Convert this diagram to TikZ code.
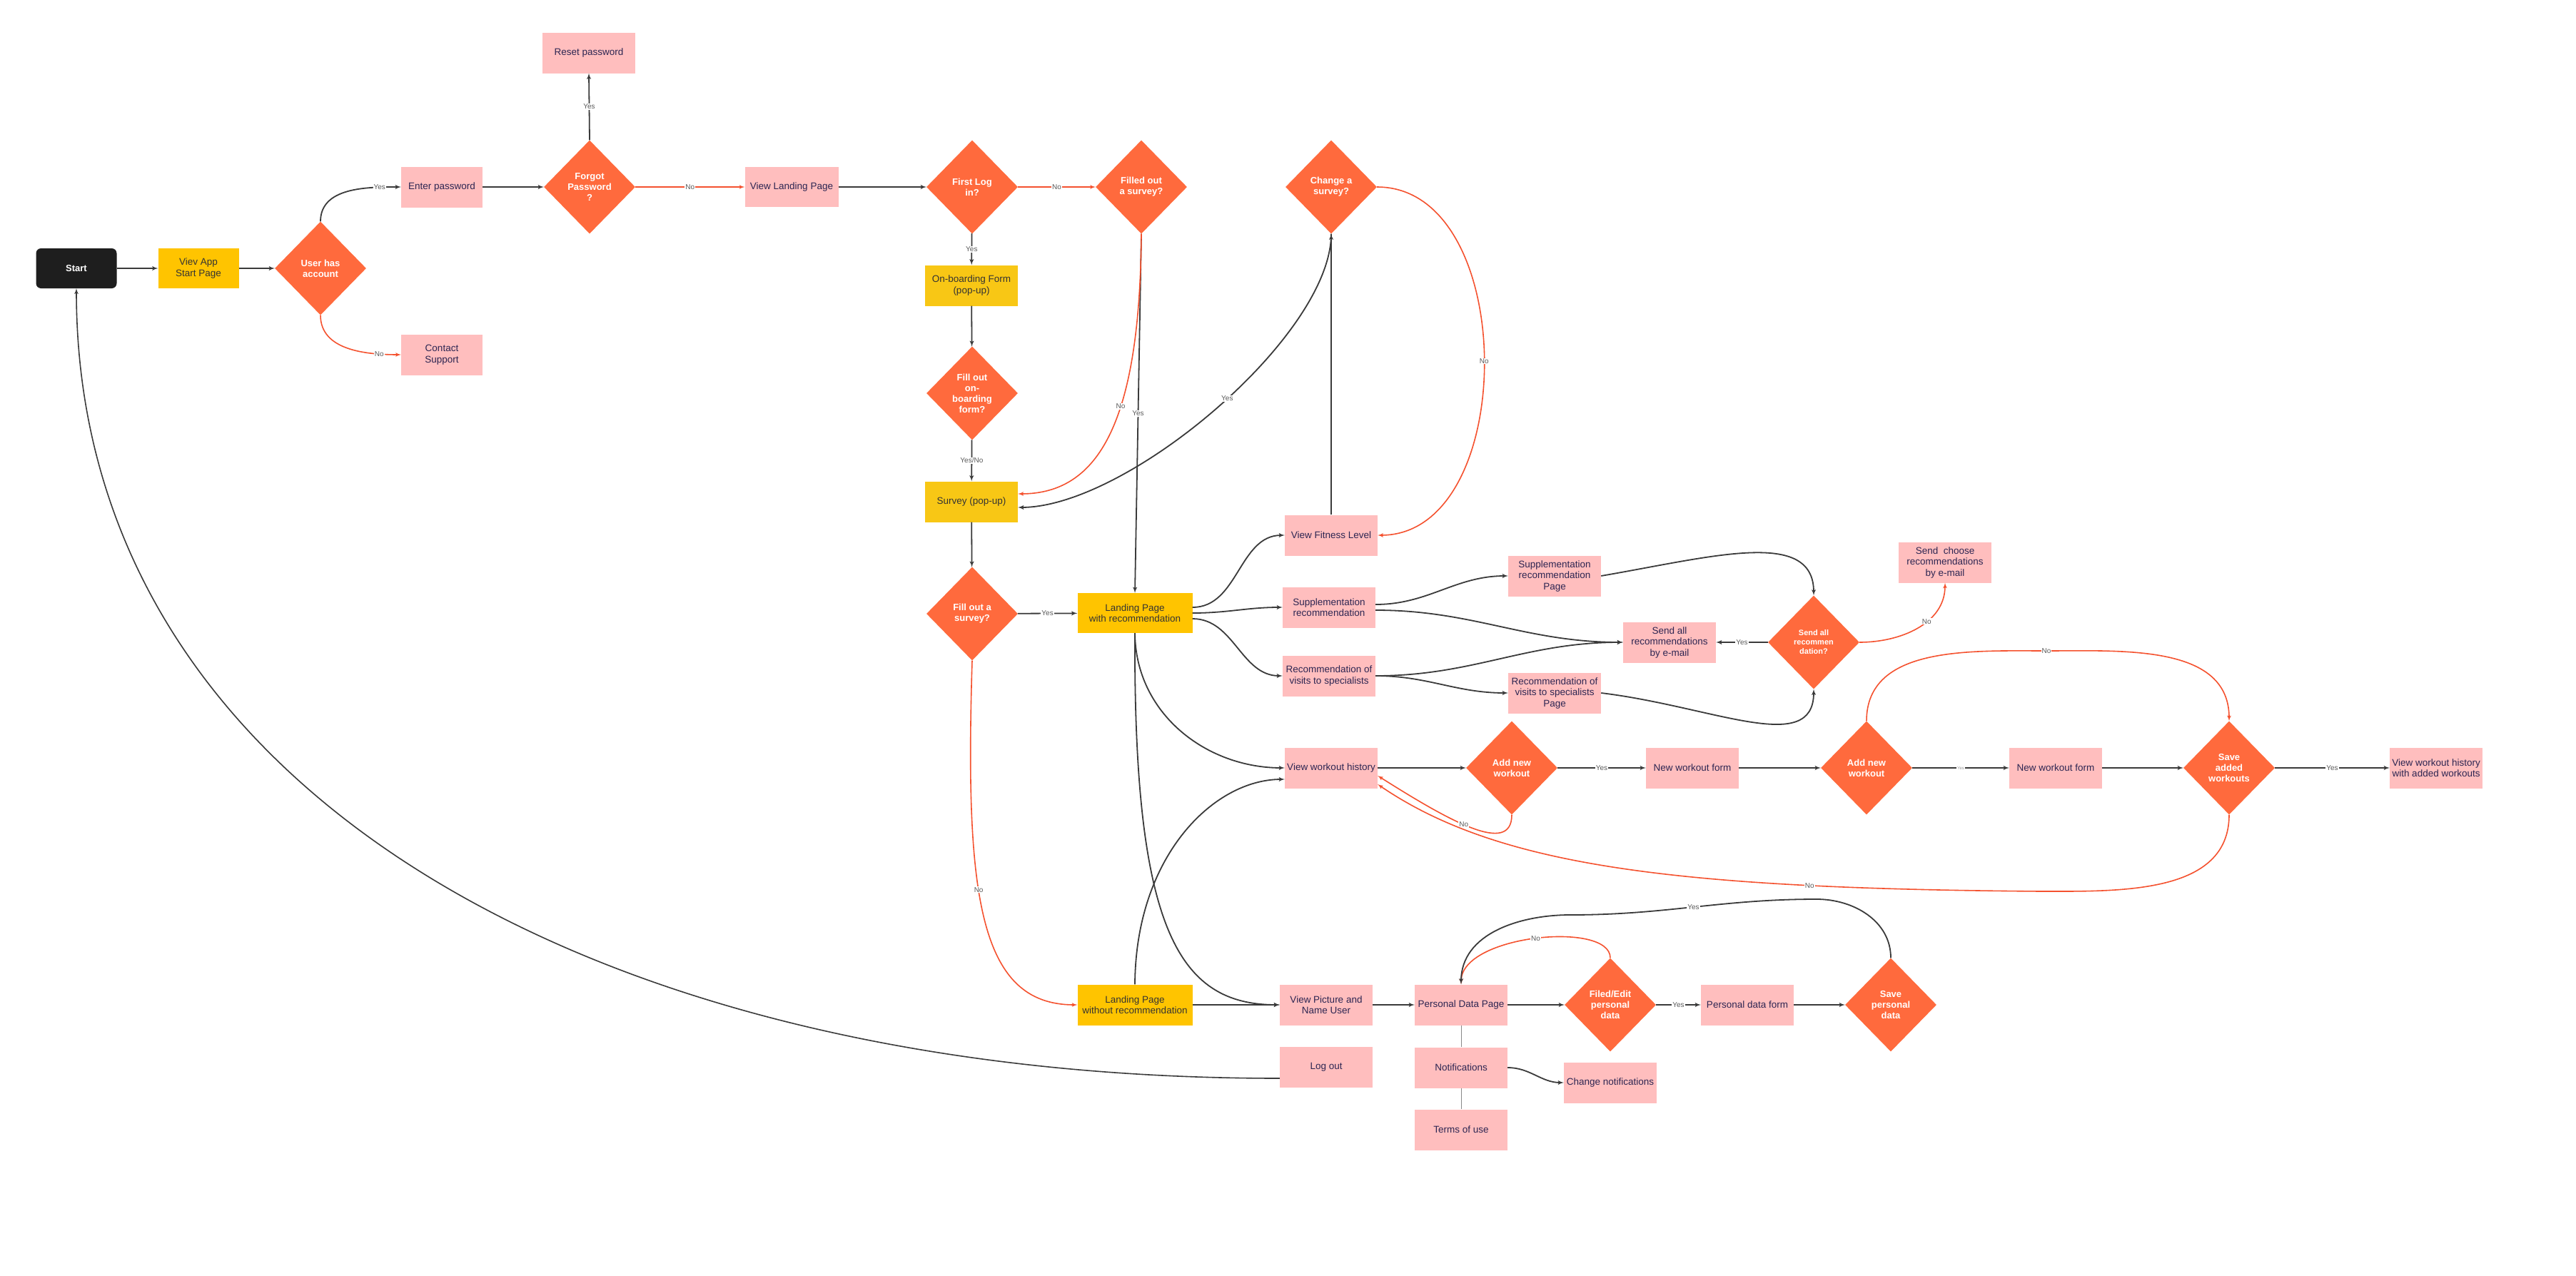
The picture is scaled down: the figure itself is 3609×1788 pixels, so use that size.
\documentclass[tikz,border=0pt]{standalone}
\usepackage{fontspec}
\setmainfont{Liberation Sans}
\usepackage{xcolor}
\usepackage{tikz}
\usetikzlibrary{shapes,arrows}

\definecolor{startblack}{HTML}{1E1E1E}
\definecolor{appyellow}{HTML}{FFC400}
\definecolor{popyellow}{HTML}{F8C715}
\definecolor{pagepink}{HTML}{FFBEBE}
\definecolor{choiceorange}{HTML}{FF6A3D}
\definecolor{flowgrey}{HTML}{3A3A3A}
\definecolor{flowred}{HTML}{F4512E}
\definecolor{pagetext}{HTML}{2C2552}
\definecolor{tagtext}{HTML}{5A5A5A}

\newcommand{\boxfont}{\fontsize{13.5}{15.5}\selectfont}
\newcommand{\choicefont}{\fontsize{13}{15}\selectfont\bfseries}
\newcommand{\smallchoicefont}{\fontsize{11}{13}\selectfont\bfseries}
\newcommand{\tagfont}{\fontsize{10}{11}\selectfont}

\tikzstyle{startblock} = [rectangle, rounded corners=7pt, fill=startblack, text=white, font=\choicefont, minimum width=113pt, minimum height=56pt, align=center]
\tikzstyle{yellowblock} = [rectangle, fill=appyellow, text=black!80, font=\boxfont, minimum width=113pt, minimum height=56pt, inner sep=2pt, align=center]
\tikzstyle{popblock} = [yellowblock, fill=popyellow, minimum width=130pt, minimum height=57pt]
\tikzstyle{pinkblock} = [rectangle, fill=pagepink, text=pagetext, font=\boxfont, minimum width=130pt, minimum height=57pt, inner sep=2pt, align=center]
\tikzstyle{decision} = [diamond, fill=choiceorange, text=white, font=\choicefont, minimum width=128pt, minimum height=131pt, inner sep=0pt, align=center]
\tikzstyle{line} = [draw=flowgrey, line width=1.8pt, -latex']
\tikzstyle{noline} = [draw=flowred, line width=1.6pt, -latex']
\tikzstyle{thinline} = [draw=flowgrey!60, line width=0.7pt]
\tikzstyle{lbl} = [font=\tagfont, text=tagtext, fill=white, inner sep=1pt]

\begin{document}
\begin{tikzpicture}[x=1pt,y=1pt]
\useasboundingbox (0,0) rectangle (3609,-1788);

% log in
\node [startblock] (start) at (107,-376) {Start};
\node [yellowblock] (viewapp) at (278,-376) {Viev App\\Start Page};
\node [decision] (hasacc) at (449,-376) {User has\\account};
\node [pinkblock, minimum width=114pt] (enterpw) at (619,-262) {Enter password};
\node [pinkblock, minimum width=114pt] (support) at (619,-497) {Contact\\Support};
\node [decision] (forgot) at (826,-262) {Forgot\\Password\\?};
\node [pinkblock] (resetpw) at (825,-74) {Reset password};
\node [pinkblock, minimum width=131pt, minimum height=56pt] (landing) at (1109,-262) {View Landing Page};
\node [decision] (firstlog) at (1362,-262) {First Log\\in?};
\node [decision] (filled) at (1599,-262) {Filled out\\a survey?};
\node [popblock] (onboard) at (1361,-400) {On-boarding Form\\(pop-up)};
\node [decision] (fillonb) at (1362,-551) {Fill out\\on-\\boarding\\form?};
\node [popblock] (survey) at (1361,-703) {Survey (pop-up)};
\node [decision] (fillsurvey) at (1362,-860) {Fill out a\\survey?};
\node [yellowblock, minimum width=161pt] (lprec) at (1590,-859) {Landing Page\\with recommendation};
\node [yellowblock, minimum width=161pt, minimum height=57pt] (lpwo) at (1590,-1408) {Landing Page\\without recommendation};

% recommendations
\node [decision] (changesurvey) at (1865,-262) {Change a\\survey?};
\node [pinkblock] (fitness) at (1865,-750) {View Fitness Level};
\node [pinkblock] (supprec) at (1862,-851) {Supplementation\\recommendation};
\node [pinkblock] (recvis) at (1862,-947) {Recommendation of\\visits to specialists};
\node [pinkblock] (supppage) at (2178,-807) {Supplementation\\recommendation\\Page};
\node [pinkblock] (recvispage) at (2178,-971) {Recommendation of\\visits to specialists\\Page};
\node [pinkblock] (sendall) at (2339,-900) {Send all\\recommendations\\by e-mail};
\node [decision, font=\smallchoicefont] (sendq) at (2541,-900) {Send all\\recommen\\dation?};
\node [pinkblock] (sendchoose) at (2725,-788) {Send~ choose\\recommendations\\by e-mail};

% workouts
\node [pinkblock] (history) at (1865,-1076) {View workout history};
\node [decision] (addw1) at (2118,-1076) {Add new\\workout};
\node [pinkblock] (form1) at (2371,-1076) {New workout form};
\node [decision] (addw2) at (2615,-1076) {Add new\\workout};
\node [pinkblock] (form2) at (2880,-1076) {New workout form};
\node [decision] (saveadd) at (3123,-1076) {Save\\added\\workouts};
\node [pinkblock] (historyadd) at (3413,-1076) {View workout history\\with added workouts};

% user data
\node [pinkblock] (picture) at (1858,-1408) {View Picture and\\Name User};
\node [pinkblock] (personal) at (2047,-1408) {Personal Data Page};
\node [decision] (filed) at (2256,-1408) {Filed/Edit\\personal\\data};
\node [pinkblock] (pdform) at (2448,-1408) {Personal data form};
\node [decision] (savepd) at (2649,-1408) {Save\\personal\\data};
\node [pinkblock] (logout) at (1858,-1495) {Log out};
\node [pinkblock] (notif) at (2047,-1496) {Notifications};
\node [pinkblock] (changenotif) at (2256,-1517) {Change notifications};
\node [pinkblock] (terms) at (2047,-1583) {Terms of use};

% log in flow
\path [line] (start) -- (viewapp);
\path [line] (viewapp) -- (hasacc);
\path [line] (hasacc.north) to[out=90,in=180] node[lbl,pos=.8] {Yes} (enterpw.west);
\path [noline] (hasacc.south) to[out=-90,in=180] node[lbl,pos=.8] {No} (support.west);
\path [line] (enterpw) -- (forgot);
\path [line] (forgot.north) -- node[lbl] {Yes} (resetpw.south);
\path [noline] (forgot) -- node[lbl] {No} (landing);
\path [line] (landing) -- (firstlog);
\path [noline] (firstlog) -- node[lbl] {No} (filled);
\path [line] (firstlog) -- node[lbl] {Yes} (onboard);
\path [line] (onboard) -- (fillonb);
\path [line] (fillonb) -- node[lbl] {Yes/No} (survey);
\path [line] (filled.south) -- node[lbl] {Yes} (lprec.north);
\path [noline] (filled.south) .. controls (1597,-590) and (1540,-692) .. node[lbl,pos=.4] {No} ([yshift=11pt]survey.east);
\path [line] (survey) -- (fillsurvey);
\path [line] (fillsurvey) -- node[lbl] {Yes} (lprec);
\path [noline] (fillsurvey.south) .. controls (1352,-1250) and (1370,-1408) .. node[lbl,pos=.42] {No} (lpwo.west);

% landing page with recommendation
\path [line] ([yshift=8pt]lprec.east) to[out=0,in=180] (fitness.west);
\path [line] (lprec.east) to[out=0,in=180] (supprec.west);
\path [line] ([yshift=-8pt]lprec.east) to[out=0,in=180] (recvis.west);
\path [line] (lprec.south) .. controls (1591,-1000) and (1690,-1076) .. (history.west);
\path [line] (lprec.south) .. controls (1588,-1300) and (1650,-1408) .. (picture.west);
\path [line] (lpwo.north) .. controls (1591,-1200) and (1700,-1092) .. ([yshift=-16pt]history.west);
\path [line] (fitness.north) -- (changesurvey.south);
\path [line] (changesurvey.south) .. controls (1865,-470) and (1580,-711) .. node[lbl,pos=.47] {Yes} ([yshift=-8pt]survey.east);
\path [noline] (changesurvey.east) .. controls (2129,-262) and (2129,-750) .. node[lbl] {No} (fitness.east);
\path [line] ([yshift=4pt]supprec.east) to[out=0,in=180] (supppage.west);
\path [line] ([yshift=-4pt]supprec.east) to[out=0,in=180] (sendall.west);
\path [line] (recvis.east) to[out=0,in=180] (sendall.west);
\path [line] (recvis.east) to[out=0,in=180] (recvispage.west);
\path [line] (supppage.east) .. controls (2400,-780) and (2541,-740) .. (sendq.north);
\path [line] (recvispage.east) .. controls (2400,-990) and (2541,-1060) .. (sendq.south);
\path [line] (sendq) -- node[lbl] {Yes} (sendall);
\path [noline] (sendq.east) to[out=0,in=-90] node[lbl,pos=.6] {No} (sendchoose.south);

% workouts
\path [line] (history) -- (addw1);
\path [line] (addw1) -- node[lbl] {Yes} (form1);
\path [noline] (addw1.south) .. controls (2118,-1200) and (2030,-1150) .. node[lbl,pos=.55] {No} ([yshift=-11pt]history.east);
\path [line] (form1) -- (addw2);
\path [line] (addw2) -- node[lbl, font=\fontsize{6}{7}\selectfont, text=tagtext!60] {Yes} (form2);
\path [noline] (addw2.north) to[out=90,in=180] (2867,-912) node[lbl] {No} to[out=0,in=90] (saveadd.north);
\path [line] (form2) -- (saveadd);
\path [line] (saveadd) -- node[lbl] {Yes} (historyadd);
\path [noline] (saveadd.south) to[out=-90,in=0] (2860,-1249) .. controls (2350,-1245) and (2100,-1215) .. node[lbl,pos=.24] {No} ([yshift=-23pt]history.east);

% user data
\path [line] (lpwo) -- (picture);
\path [line] (picture) -- (personal);
\path [line] (personal) -- (filed);
\path [noline] (filed.north) .. controls (2256,-1290) and (2047,-1310) .. node[lbl] {No} (personal.north);
\path [line] (filed) -- node[lbl] {Yes} (pdform);
\path [line] (pdform) -- (savepd);
\path [line] (savepd.north) to[out=90,in=0] (2545,-1260) to[out=180,in=0] node[lbl] {Yes} (2200,-1282) to[out=180,in=90] (personal.north);
\path [thinline] (personal) -- (notif);
\path [thinline] (notif) -- (terms);
\path [line] (notif.east) to[out=0,in=180] (changenotif.west);
\path [line, line width=1.6pt] ([yshift=-16pt]logout.west) .. controls (820,-1511) and (107,-1100) .. (start.south);
\end{tikzpicture}
\end{document}
